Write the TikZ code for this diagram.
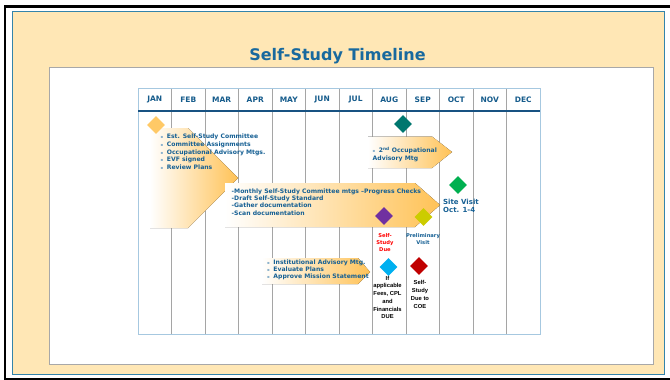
\documentclass[tikz,border=0pt]{standalone}
\usepackage{fontspec}
\setmainfont{DejaVu Sans}
\newfontfamily\arialfont{Liberation Sans}
\usetikzlibrary{shapes.geometric}
\definecolor{frameblue}{RGB}{52,132,170}
\definecolor{beige}{RGB}{255,231,181}
\definecolor{panelgray}{RGB}{168,168,168}
\definecolor{titleblue}{RGB}{24,105,158}
\definecolor{hdblue}{RGB}{22,92,140}
\definecolor{txtblue}{RGB}{22,96,148}
\definecolor{tableblue}{RGB}{166,200,224}
\definecolor{gridgray}{RGB}{165,165,165}
\definecolor{rulenavy}{RGB}{24,82,130}
\definecolor{chevorange}{RGB}{255,194,86}
\definecolor{bulletblue}{RGB}{140,178,205}
\definecolor{estyellow}{RGB}{255,201,102}
\definecolor{occteal}{RGB}{0,119,111}
\definecolor{sitegreen}{RGB}{0,176,80}
\definecolor{duepurple}{RGB}{112,48,160}
\definecolor{prelimolive}{RGB}{204,204,0}
\definecolor{feeblue}{RGB}{0,176,240}
\definecolor{coered}{RGB}{192,0,0}
\definecolor{duered}{RGB}{255,0,0}
\newcommand{\bul}{{\color{bulletblue}\fontsize{4}{4}\selectfont ▪}\hspace{3.5pt}}

\begin{document}
\begin{tikzpicture}[x=1pt, y=-1pt,
	month/.style={font=\fontsize{7.5}{9}\selectfont\bfseries, text=hdblue, inner sep=0},
	steps/.style={font=\fontsize{6.1}{7.8}\selectfont\bfseries, text=txtblue, align=left, inner sep=0, anchor=north west},
	mile/.style={diamond, inner sep=0, minimum size=18pt},
	note/.style={font=\fontsize{5.2}{7}\selectfont\bfseries, align=center, inner sep=0, anchor=north},
	duetext/.style={font=\arialfont\bfseries\fontsize{5.8}{7.7}\selectfont, align=center, inner sep=0, anchor=north},
	chev/.style={left color=white, right color=chevorange},
	gridline/.style={draw=gridgray, line width=0.8pt}]
	\useasboundingbox (0,0) rectangle (670,380);
	\clip (0,0) rectangle (670,380);
	\fill[white] (0,0) rectangle (670,380);
	\draw[line width=2.6pt] (5,6.2) rectangle (700,379.4);
	\draw[fill=beige, draw=frameblue, line width=1.3pt] (12.5,11.5) rectangle (664.5,374.5);
	\draw[fill=white, draw=panelgray, line width=0.8pt] (49.5,67.5) rectangle (653.5,364);
	\node[font=\fontsize{16}{18}\selectfont\bfseries, text=titleblue, anchor=base, inner sep=0] (title) at (337.5,60) {Self-Study Timeline};
	\foreach \k in {1,...,11}
		\draw[gridline] ({138+33.5*\k},88) -- ({138+33.5*\k},334);
	\draw[draw=tableblue, line width=0.8pt] (138,88) rectangle (540,334);
	\draw[draw=rulenavy, line width=1.2pt] (138,111) -- (540,111);
	\foreach \m [count=\i from 0] in {JAN,FEB,MAR,APR,MAY,JUN,JUL,AUG,SEP,OCT,NOV,DEC}
		\node[month] (m\i) at ({138+33.5*(\i+0.5)},99.5) {\m};
	\fill[chev] (150,128) -- (188,128) -- (238,178) -- (188,228) -- (150,228) -- cycle;
	\fill[chev] (368,136.5) -- (432,136.5) -- (452,152) -- (432,168) -- (368,168) -- cycle;
	\fill[chev] (225,183) -- (415,183) -- (440,205) -- (415,227) -- (225,227) -- cycle;
	\fill[chev] (262,258) -- (358,258) -- (370,272) -- (358,284) -- (262,284) -- cycle;
	\node[steps] (plan) at (160.5,133.6) {\bul Est. Self-Study Committee\\\bul Committee Assignments\\\bul Occupational Advisory Mtgs.\\\bul EVF signed\\\bul Review Plans};
	\node[steps] (occ) at (372.5,146.6) {\bul 2\textsuperscript{nd} Occupational\\Advisory Mtg};
	\node[steps, font=\fontsize{6.1}{7.3}\selectfont\bfseries] (monthly) at (231.5,188.3) {-Monthly Self-Study Committee mtgs –Progress Checks\\-Draft Self-Study Standard\\-Gather documentation\\-Scan documentation};
	\node[steps, font=\fontsize{6.1}{7.2}\selectfont\bfseries] (inst) at (267,259.3) {\bul Institutional Advisory Mtg.\\\bul Evaluate Plans\\\bul Approve Mission Statement};
	\node[mile, fill=estyellow] (est) at (156,125) {};
	\node[mile, fill=occteal] (occmile) at (403,124) {};
	\node[mile, fill=sitegreen] (site) at (458,185) {};
	\node[mile, fill=duepurple] (ssdue) at (384,216) {};
	\node[mile, fill=prelimolive] (prelim) at (423.5,217) {};
	\node[mile, fill=feeblue] (fees) at (388.5,267) {};
	\node[mile, fill=coered] (coe) at (419,266) {};
	\node[note, text=duered] (ssduetext) at (385,233.6) {Self-\\Study\\Due};
	\node[note, text=txtblue] (prelimtext) at (423,233.6) {Preliminary\\Visit};
	\node[steps, font=\fontsize{7}{8.5}\selectfont\bfseries] (sitetext) at (443,198.9) {Site Visit\\Oct. 1-4};
	\node[duetext] (feestext) at (387.5,275.8) {If\\applicable\\Fees, CPL\\and\\Financials\\DUE};
	\node[duetext] (coetext) at (420,280.5) {Self-\\Study\\Due to\\COE};
\end{tikzpicture}
\end{document}
